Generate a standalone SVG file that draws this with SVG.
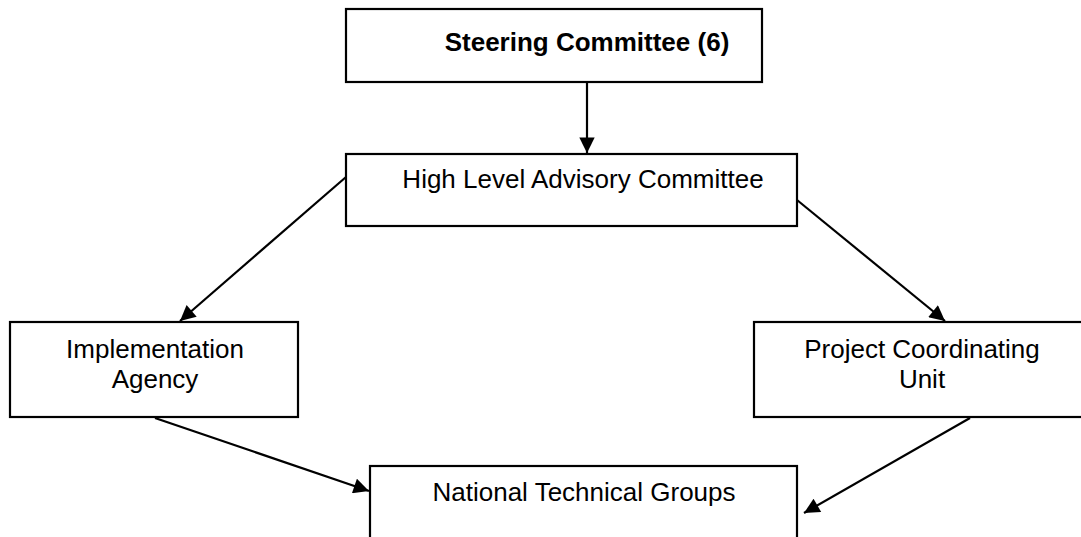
<svg xmlns="http://www.w3.org/2000/svg" width="1081" height="537" viewBox="0 0 1081 537">
<defs>
<style>
.box{fill:#fff;stroke:#000;stroke-width:2.2}
.t{font-family:"Liberation Sans",Arial,sans-serif;font-size:26px;fill:#000;text-anchor:middle}
.b{font-weight:bold}
.c{stroke:#000;stroke-width:2.2;fill:none;marker-end:url(#ah)}
</style>
<marker id="ah" viewBox="0 0 10 10" refX="10" refY="5" markerWidth="9" markerHeight="7" markerUnits="strokeWidth" orient="auto">
<path d="M0,0 L10,5 L0,10 Z" fill="#000"/>
</marker>
</defs>
<rect width="1081" height="537" fill="#fff"/>
<g id="connectors">
<line class="c" x1="587" y1="83" x2="587" y2="153"/>
<line class="c" x1="346" y1="177" x2="180" y2="321"/>
<line class="c" x1="797" y1="200" x2="945" y2="321"/>
<line class="c" x1="155" y1="418" x2="369" y2="491"/>
<line class="c" x1="970" y1="418" x2="804" y2="513"/>
</g>
<g id="steering">
<rect class="box" x="346" y="9" width="416" height="73"/>
<text class="t b" x="587" y="51">Steering Committee (6)</text>
</g>
<g id="hlac">
<rect class="box" x="346" y="154" width="451" height="72"/>
<text class="t" x="583" y="188">High Level Advisory Committee</text>
</g>
<g id="ia">
<rect class="box" x="10" y="322" width="288" height="95"/>
<text class="t" x="155" y="358">Implementation</text>
<text class="t" x="155" y="388">Agency</text>
</g>
<g id="pcu">
<rect class="box" x="754" y="322" width="340" height="95"/>
<text class="t" x="922" y="358">Project Coordinating</text>
<text class="t" x="922" y="388">Unit</text>
</g>
<g id="ntg">
<rect class="box" x="370" y="466" width="427" height="90"/>
<text class="t" x="584" y="501">National Technical Groups</text>
</g>
</svg>
